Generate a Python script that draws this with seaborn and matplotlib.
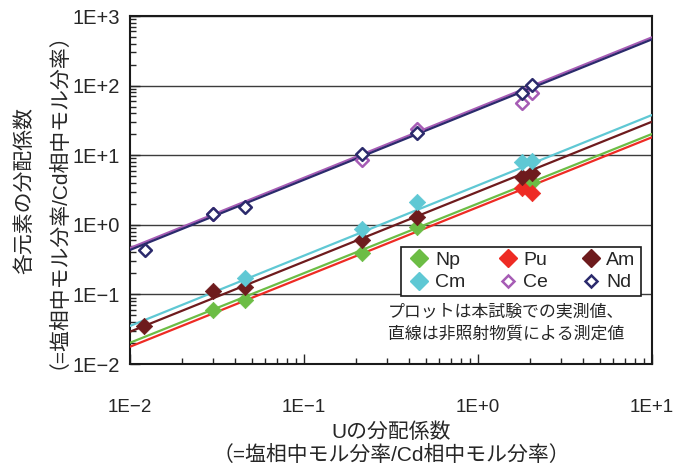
import numpy as np
import pandas as pd
import matplotlib
matplotlib.use("Agg")
import matplotlib.pyplot as plt
from matplotlib.lines import Line2D
from matplotlib.ticker import LogLocator, NullFormatter
import seaborn as sns

sns.set_style("white")
plt.rcParams['font.family'] = ['Liberation Sans', 'Noto Sans CJK JP', 'DejaVu Sans']
plt.rcParams['axes.unicode_minus'] = True

# ---------------- data ----------------
elements = ["Np", "Pu", "Am", "Cm", "Ce", "Nd"]

np_x = [0.0299, 0.046, 0.215, 0.445, 2.03]
np_y = [0.060, 0.083, 0.39, 0.92, 4.16]

pu_x = [1.78, 2.03]
pu_y = [3.34, 2.89]

am_x = [0.0121, 0.0299, 0.046, 0.215, 0.445, 1.78, 2.03]
am_y = [0.035, 0.113, 0.126, 0.605, 1.31, 4.9, 5.5]

cm_x = [0.046, 0.215, 0.445, 1.78, 2.03]
cm_y = [0.17, 0.86, 2.15, 8.07, 8.3]

ce_x = [0.0299, 0.215, 0.445, 1.78, 2.03]
ce_y = [1.45, 8.5, 23.8, 55.7, 77.5]

nd_x = [0.0122, 0.0299, 0.046, 0.215, 0.445, 1.78, 2.03]
nd_y = [0.44, 1.42, 1.82, 10.5, 20.6, 77.5, 102]

# reference lines (non-irradiated material), value at x = 0.01 and x = 10
line_x = [0.01, 10]
np_line = [0.0202, 20.2]
pu_line = [0.0177, 18.1]
am_line = [0.0291, 30.3]
cm_line = [0.0352, 37.8]
ce_line = [0.464, 494]
nd_line = [0.435, 462]

x_ticks = [0.01, 0.1, 1, 10]
x_tick_labels = ["1E\u22122", "1E\u22121", "1E+0", "1E+1"]
y_ticks = [0.01, 0.1, 1, 10, 100, 1000]
y_tick_labels = ["1E\u22122", "1E\u22121", "1E+0", "1E+1", "1E+2", "1E+3"]

# ---------------- style ----------------
colors = {"Np": "#6cbd45", "Pu": "#ee2b24", "Am": "#6e1b1d",
          "Cm": "#5fc8d4", "Ce": "#a65cb5", "Nd": "#2b2a6c"}
filled = {"Np": True, "Pu": True, "Am": True, "Cm": True, "Ce": False, "Nd": False}

points = {"Np": (np_x, np_y), "Pu": (pu_x, pu_y), "Am": (am_x, am_y),
          "Cm": (cm_x, cm_y), "Ce": (ce_x, ce_y), "Nd": (nd_x, nd_y)}
lines = {"Np": np_line, "Pu": pu_line, "Am": am_line,
         "Cm": cm_line, "Ce": ce_line, "Nd": nd_line}

fig = plt.figure(figsize=(6.73, 4.70), dpi=100)
ax = fig.add_axes([130/673, 1-364/470, 522/673, 348/470])
ax.set_xscale("log")
ax.set_yscale("log")
ax.set_xlim(0.01, 10)
ax.set_ylim(0.01, 1000)

# lines
for el in ["Pu", "Np", "Am", "Cm", "Ce", "Nd"]:
    df = pd.DataFrame({"x": line_x, "y": lines[el]})
    sns.lineplot(data=df, x="x", y="y", ax=ax, color=colors[el], lw=1.6,
                 zorder=3, legend=False)

# points
for el in ["Np", "Pu", "Am", "Cm", "Ce", "Nd"]:
    xs, ys = points[el]
    df = pd.DataFrame({"x": xs, "y": ys})
    if filled[el]:
        sns.scatterplot(data=df, x="x", y="y", ax=ax, marker="D", s=70,
                        color=colors[el], edgecolor=colors[el], linewidth=0.5,
                        zorder=4, legend=False)
    else:
        sns.scatterplot(data=df, x="x", y="y", ax=ax, marker="D", s=42,
                        facecolor="white", edgecolor=colors[el], linewidth=1.8,
                        zorder=5, legend=False)

ax.set_xlabel("")
ax.set_ylabel("")

# grid
ax.yaxis.grid(True, which="major", color="#3c3c3c", lw=1.0, zorder=1)
ax.xaxis.grid(False)
ax.set_axisbelow(True)

for sp in ax.spines.values():
    sp.set_color("#1a1a1a")
    sp.set_linewidth(1.5)

ax.set_xticks(x_ticks)
ax.set_xticklabels(x_tick_labels)
ax.set_yticks(y_ticks)
ax.set_yticklabels(y_tick_labels)
ax.xaxis.set_minor_locator(LogLocator(base=10, subs=np.arange(2, 10), numticks=20))
ax.yaxis.set_minor_locator(LogLocator(base=10, subs=np.arange(2, 10), numticks=20))
ax.xaxis.set_minor_formatter(NullFormatter())
ax.yaxis.set_minor_formatter(NullFormatter())
ax.tick_params(axis="x", which="major", direction="in", length=7, width=1,
               labelsize=13.5, pad=25, bottom=True, top=False)
ax.tick_params(axis="x", which="minor", direction="in", length=4, width=1,
               bottom=True, top=False)
ax.tick_params(axis="y", which="major", direction="in", length=7, width=1,
               labelsize=14.5, pad=7, left=True, right=False)
ax.tick_params(axis="y", which="minor", direction="in", length=4, width=1,
               left=True, right=False)

# legend (row-wise order: Np Pu Am / Cm Ce Nd)
order = ["Np", "Cm", "Pu", "Ce", "Am", "Nd"]
handles = []
for el in order:
    if filled[el]:
        h = Line2D([], [], ls="none", marker="D", ms=9, color=colors[el],
                   markeredgecolor=colors[el])
    else:
        h = Line2D([], [], ls="none", marker="D", ms=6.5, markerfacecolor="white",
                   markeredgecolor=colors[el], markeredgewidth=1.8)
    handles.append(h)
leg = ax.legend(handles, order, ncol=3, loc="center",
                bbox_to_anchor=(0.519, 0.19, 0.459, 0.152), mode="expand",
                borderaxespad=0, frameon=True, fancybox=False, framealpha=1,
                edgecolor="#1a1a1a", fontsize=14, handletextpad=0.1,
                columnspacing=0.8, handlelength=1.4, labelspacing=0.25,
                borderpad=0.25)
leg.get_frame().set_linewidth(1.2)
leg.set_zorder(6)

# note text
fig.text(388/673, 1-312/470, "プロットは本試験での実測値、", fontsize=12.2,
         ha="left", va="center")
fig.text(388/673, 1-334/470, "直線は非照射物質による測定値", fontsize=12.2,
         ha="left", va="center")

# axis titles
fig.text(391/673, 1-444/470, "Uの分配係数\n（=塩相中モル分率/Cd相中モル分率）",
         fontsize=15, ha="center", va="center", multialignment="center",
         linespacing=1.2)
fig.text(36/673, 1-190/470, "各元素の分配係数\n（=塩相中モル分率/Cd相中モル分率）",
         fontsize=15, ha="center", va="center", multialignment="center",
         rotation=90, linespacing=1.2)

fig.savefig("out.png", dpi=100)
